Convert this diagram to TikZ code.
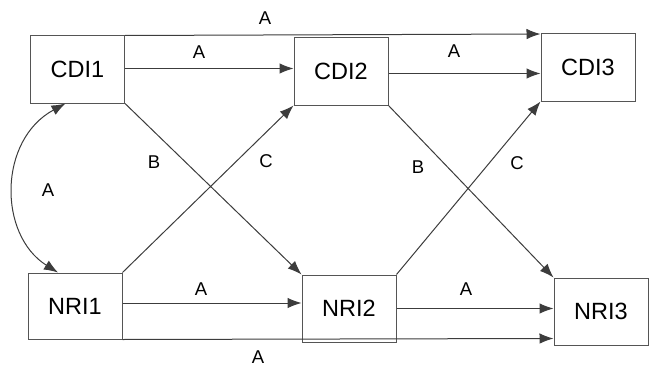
\documentclass[tikz,border=0pt]{standalone}
\usepackage{fontspec}
\setmainfont{Liberation Sans}
\usetikzlibrary{arrows.meta}
\definecolor{edge}{RGB}{60,60,60}
\definecolor{frame}{RGB}{85,85,85}
\tikzset{
  box/.style={draw=frame, line width=1pt, fill=white, minimum width=94pt, minimum height=66pt,
    inner sep=0pt, font=\fontsize{23.5}{26}\selectfont},
  lbl/.style={inner sep=0pt, font=\fontsize{18.5}{20}\selectfont},
  tip/.style={Latex[length=14pt,width=10.5pt]},
  link/.style={draw=edge, line width=1pt, -{Latex[length=14pt,width=10.5pt]}}
}
\begin{document}
\begin{tikzpicture}[x=1pt,y=-1pt]
\useasboundingbox (0,0) rectangle (650,369);
% boxes (centres)
\node[box, minimum height=67pt] (cdi1) at (77.5,69.5) {CDI1};
\node[box, minimum height=67pt] (cdi2) at (341,71.5) {CDI2};
\node[box, minimum height=67pt] (cdi3) at (588,67.5) {CDI3};
\node[box] (nri1) at (75,306) {NRI1};
\node[box, minimum height=67pt] (nri2) at (349,308.5) {NRI2};
\node[box, minimum height=67pt] (nri3) at (601,311.5) {NRI3};

\coordinate (curveA) at ([xshift=-12pt]cdi1.south);
\coordinate (curveB) at ([xshift=-17pt]nri1.north);

% straight horizontal links
\draw[link] (cdi1.north east) -- ([yshift=1.5pt]cdi1.north east -| cdi3.west);
\draw[link] ([yshift=1pt]cdi1.east) -- ([yshift=1pt]cdi1.east -| cdi2.west);
\draw[link] ([yshift=-2pt]cdi2.east) -- ([yshift=-2pt]cdi2.east -| cdi3.west);
\draw[link] ([yshift=3pt]nri1.east) -- ([yshift=3pt]nri1.east -| nri2.west);
\draw[link] (nri2.east) -- (nri2.east -| nri3.west);
\draw[link] (nri1.south east) -- ([yshift=1pt]nri1.south east -| nri3.west);

% diagonal links
\draw[link] (cdi1.south east) -- (nri2.north west);
\draw[link] (nri1.north east) -- (cdi2.south west);
\draw[link] (cdi2.south east) -- (nri3.north west);
\draw[link] (nri2.north east) -- (cdi3.south west);

% two-way curved link on the left
\draw[draw=edge, line width=1pt, {Latex[length=14pt,width=10.5pt]}-{Latex[length=14pt,width=10.5pt]}]
  (curveA) .. controls (-2,140) and (-2,235) .. (curveB);

% edge labels
\node[lbl] (l1) at (265,18) {A};
\node[lbl] (l2) at (199,52) {A};
\node[lbl] (l3) at (454,51) {A};
\node[lbl] (l4) at (48,190) {A};
\node[lbl] (l5) at (154,162) {B};
\node[lbl] (l6) at (266,161) {C};
\node[lbl] (l7) at (418,167) {B};
\node[lbl] (l8) at (517,163) {C};
\node[lbl] (l9) at (201,289) {A};
\node[lbl] (l10) at (466,289) {A};
\node[lbl] (l11) at (258,357) {A};
\end{tikzpicture}
\end{document}
